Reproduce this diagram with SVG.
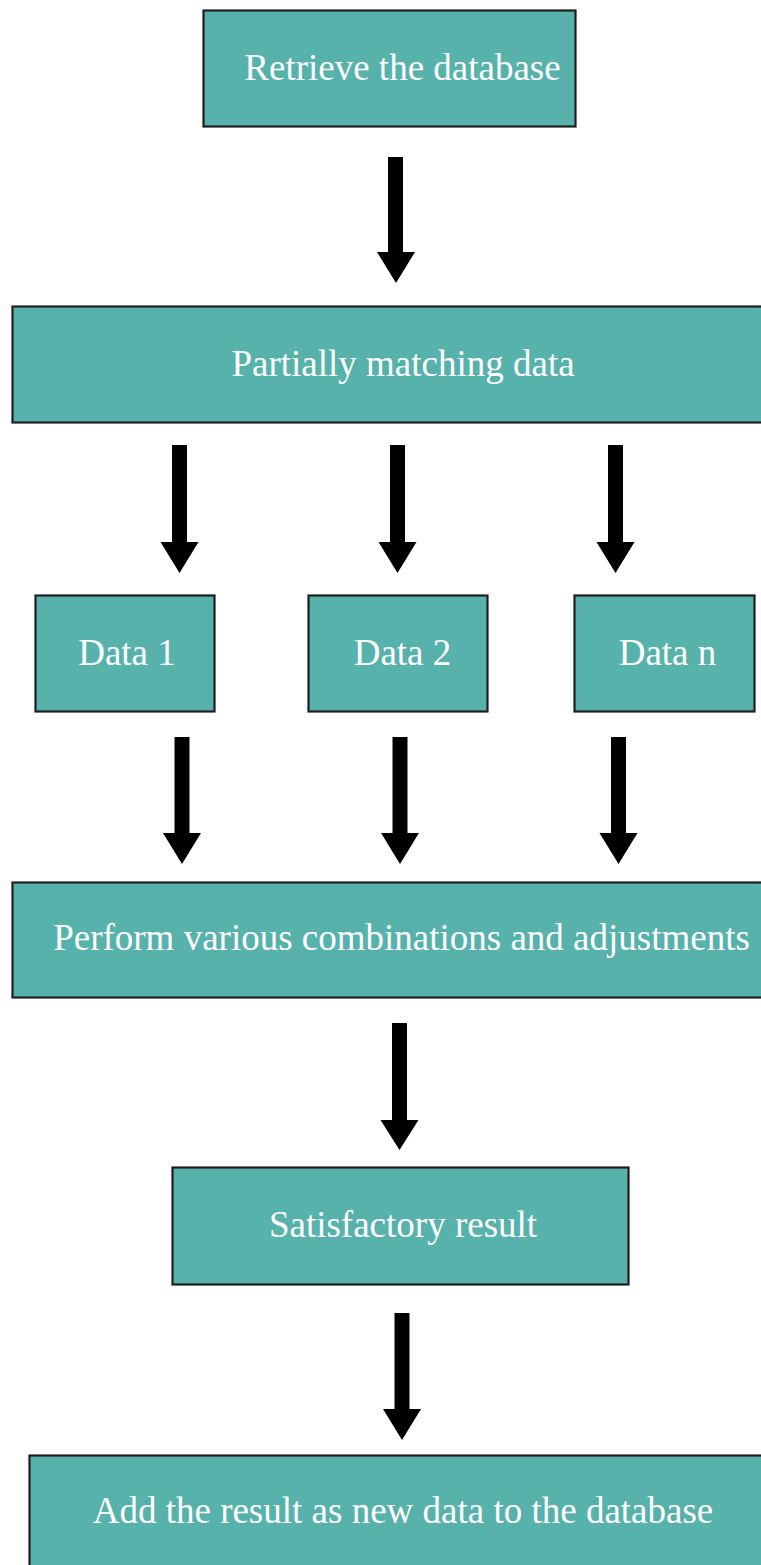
<svg xmlns="http://www.w3.org/2000/svg" width="761" height="1565" viewBox="0 0 761 1565">
<defs>
<style>
.box{fill:#56b2aa;stroke:#1e1e1e;stroke-width:2.2}
.lbl{font-family:"Liberation Serif","Times New Roman",serif;font-size:37px;fill:#ffffff;text-anchor:middle}
.arr{fill:#000000}
</style>
<path id="arrow" d="M-7.5,0 H7.5 V-31 H19 L0,0 L-19,-31 H-7.5 Z"/>
</defs>
<rect width="761" height="1565" fill="#ffffff"/>
<g id="n1"><rect class="box" x="203.5" y="10.5" width="372" height="116"/><text class="lbl" x="402.5" y="80">Retrieve the database</text></g>
<g id="n2"><rect class="box" x="12.5" y="306.5" width="752" height="116"/><text class="lbl" x="403" y="376">Partially matching data</text></g>
<g id="n3"><rect class="box" x="35.5" y="595.5" width="179" height="116"/><text class="lbl" x="127" y="665">Data 1</text></g>
<g id="n4"><rect class="box" x="308.5" y="595.5" width="179" height="116"/><text class="lbl" x="402.5" y="665">Data 2</text></g>
<g id="n5"><rect class="box" x="574.5" y="595.5" width="180" height="116"/><text class="lbl" x="667.5" y="665">Data n</text></g>
<g id="n6"><rect class="box" x="12.5" y="882.5" width="752" height="115"/><text class="lbl" x="401.5" y="950">Perform various combinations and adjustments</text></g>
<g id="n7"><rect class="box" x="172.5" y="1167.5" width="456" height="117"/><text class="lbl" x="403" y="1237">Satisfactory result</text></g>
<g id="n8"><rect class="box" x="29.5" y="1455.5" width="735" height="115"/><text class="lbl" x="403" y="1523">Add the result as new data to the database</text></g>
<g id="connectors" class="arr">
<path d="M388,157 H403 V252 H415 L396,283 L377,252 H388 Z"/>
<path d="M172,445 H187 V542 H198.5 L179.5,573 L160.5,542 H172 Z"/>
<path d="M390,445 H405 V542 H416.5 L397.5,573 L378.5,542 H390 Z"/>
<path d="M608,445 H623 V542 H634.5 L615.5,573 L596.5,542 H608 Z"/>
<path d="M174.5,737 H189.5 V833 H201 L182,864 L163,833 H174.5 Z"/>
<path d="M392.5,737 H407.5 V833 H419 L400,864 L381,833 H392.5 Z"/>
<path d="M611,737 H626 V833 H637.5 L618.5,864 L599.5,833 H611 Z"/>
<path d="M392,1023 H407 V1120 H418.5 L399.5,1150 L380.5,1120 H392 Z"/>
<path d="M394.5,1313 H409.5 V1409 H421 L402,1440 L383,1409 H394.5 Z"/>
</g>
</svg>
